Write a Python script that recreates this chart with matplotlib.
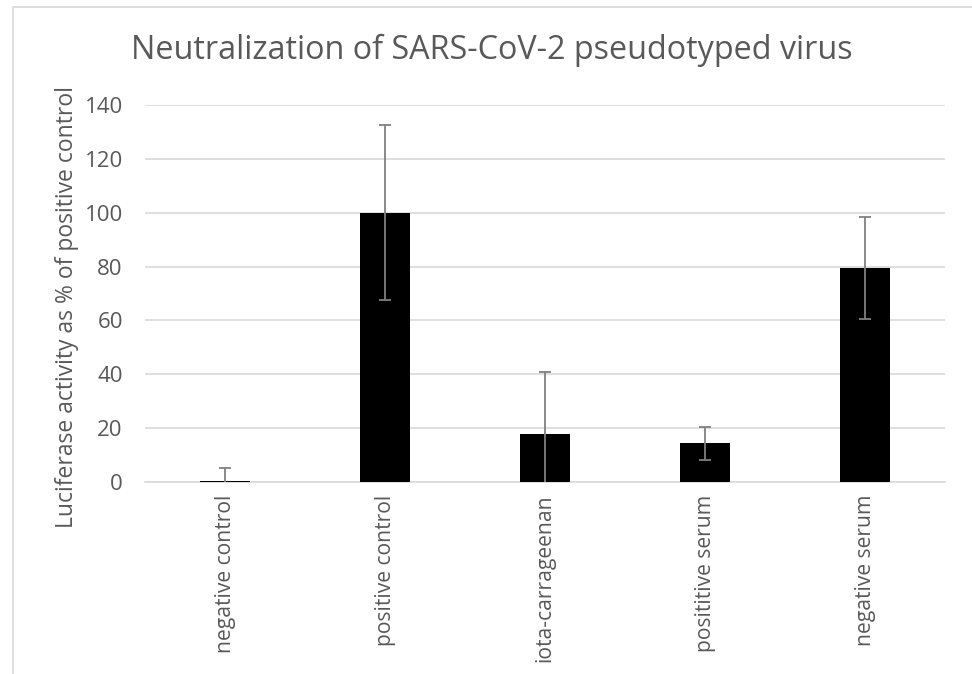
import matplotlib.pyplot as plt
from matplotlib.patches import Rectangle

# data
categories = ['negative control', 'positive control', 'iota-carrageenan',
              'posititive serum', 'negative serum']
values = [0.5, 100, 18, 14.3, 79.5]
errors = [4.6, 32.4, 23, 6.2, 19]
yticks = [0, 20, 40, 60, 80, 100, 120, 140]

txt = '#595959'
plt.rcParams['font.family'] = ['Open Sans', 'DejaVu Sans']

fig = plt.figure(figsize=(9.72, 6.74), dpi=100)
# light frame round the chart area, like the Excel chart border
fig.patches.append(Rectangle((13 / 972, -0.05), 1.0, 1 - 7 / 674 + 0.05,
                             transform=fig.transFigure, fill=False,
                             edgecolor='#d9d9d9', linewidth=1.2))

ax = fig.add_axes([145 / 972, 1 - 482 / 674, 800 / 972, 377 / 674])
x = range(len(categories))
ax.bar(x, values, width=0.31, color='black', zorder=3)
ax.errorbar(x, values, yerr=errors, fmt='none', ecolor='#808080',
            elinewidth=1.3, capsize=4.5, capthick=1.3, zorder=4)

ax.set_ylim(0, 140)
ax.set_xlim(-0.5, len(categories) - 0.5)
ax.set_yticks(yticks)
ax.set_xticks(list(x))
ax.set_xticklabels(categories, rotation=90, fontsize=15.2, color=txt)
ax.tick_params(axis='y', labelsize=16, colors=txt, length=0, pad=16)
ax.tick_params(axis='x', length=0, pad=9)
ax.grid(axis='y', color='#d9d9d9', linewidth=1.2, zorder=0)
for s in ['top', 'right', 'left']:
    ax.spines[s].set_visible(False)
ax.spines['bottom'].set_color('#d9d9d9')
ax.spines['bottom'].set_linewidth(1.2)

ax.set_ylabel('Luciferase activity as % of positive control', fontsize=16.5,
              color=txt, labelpad=4)
ax.yaxis.label.set_y(0.465)
fig.text(492 / 972, 1 - 50 / 674, 'Neutralization of SARS-CoV-2 pseudotyped virus',
         ha='center', va='center', fontsize=23.3, color=txt)

plt.savefig('out.png', dpi=100)
